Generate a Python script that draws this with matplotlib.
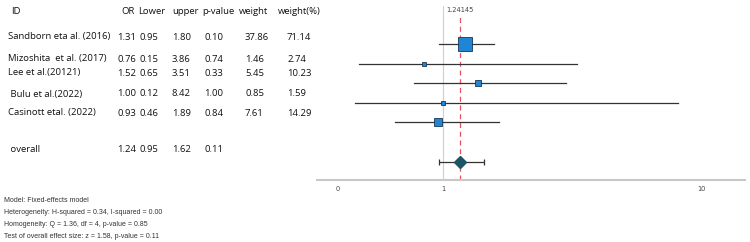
import numpy as np
import matplotlib.pyplot as plt

# data
studies = ["Sandborn eta al. (2016)", "Mizoshita  et al. (2017)", "Lee et al.(20121)",
           " Bulu et al.(2022)", "Casinott etal. (2022)"]
odds = [1.31, 0.76, 1.52, 1.00, 0.93]
lower = [0.95, 0.15, 0.65, 0.12, 0.46]
upper = [1.80, 3.86, 3.51, 8.42, 1.89]
pvals = [0.10, 0.74, 0.33, 1.00, 0.84]
weights = [37.86, 1.46, 5.45, 0.85, 7.61]
weights_pct = [71.14, 2.74, 10.23, 1.59, 14.29]
overall = {"OR": 1.24, "lower": 0.95, "upper": 1.62, "p": 0.11}
pooled = 1.24145
headers = ["ID", "OR", "Lower", "upper", "p-value", "weight", "weight(%)"]
x_ticks = [0, 1, 10]
notes = ["Model: Fixed-effects model",
         "Heterogeneity: H-squared = 0.34, I-squared = 0.00",
         "Homogeneity: Q = 1.36, df = 4, p-value = 0.85",
         "Test of overall effect size: z = 1.58, p-value = 0.11"]

W, H = 750, 242
fig = plt.figure(figsize=(W / 100, H / 100), dpi=100)


def fx(px):
    return px / W


def fy(py):
    return 1 - py / H


# forest panel, x axis is log10(x + 1)
ax = fig.add_axes([fx(317), fy(180), fx(745) - fx(317), fy(6) - fy(180)])
ax.set_xscale('function', functions=(lambda x: np.log10(np.clip(x + 1, 1e-9, None)),
                                     lambda y: 10 ** y - 1))
ax.set_xlim(-0.129, 13.69)
ax.set_ylim(6.94, -1.94)

rows = np.arange(len(studies))
ax.axvline(1, color='#cfcfcf', lw=0.8, zorder=1)
ax.plot([pooled, pooled], [6.94, -1.45], color='#e8505b', lw=0.9, ls=(0, (4, 3)), zorder=2)
ax.text(pooled, -1.72, f"{pooled:.5f}", fontsize=4.8, color='#444', ha='center', va='center')

for i in rows:
    ax.plot([lower[i], upper[i]], [i, i], color='#333333', lw=0.9, zorder=3)
    ax.plot(odds[i], i, marker='s', ms=1.2 + np.sqrt(weights[i]) * 1.4, color='#1f86d6',
            mec='#1b3550', mew=0.6, zorder=4)

oy = 6
ax.errorbar(overall["OR"], oy,
            xerr=[[overall["OR"] - overall["lower"]], [overall["upper"] - overall["OR"]]],
            fmt='none', ecolor='#333333', elinewidth=0.9, capsize=2.2, capthick=0.9, zorder=3)
ax.plot(overall["OR"], oy, marker='D', ms=6.5, color='#1e5566', mec='#1e5566', zorder=4)

for s in ['top', 'right', 'left']:
    ax.spines[s].set_visible(False)
ax.spines['bottom'].set_color('#c8c8c8')
ax.spines['bottom'].set_linewidth(1.5)
ax.set_yticks([])
ax.set_xticks(x_ticks)
ax.set_xticklabels([str(t) for t in x_ticks])
ax.tick_params(axis='x', length=0, labelsize=4.8, labelcolor='#444', pad=4)
ax.set_facecolor('none')

# table
font = "Open Sans"
fs = 6.8
col_hdr_x = [11, 121, 138, 172, 202, 239, 278]
for x, h in zip(col_hdr_x, headers):
    fig.text(fx(x), fy(11), h, fontsize=fs, family=font, color='#111', va='center')

row_y = [37, 59, 73, 94, 113]
col_x = [8, 117, 140, 172, 204, 245, 287]
for i in rows:
    vals = [studies[i], f"{odds[i]:.2f}", f"{lower[i]:.2f}", f"{upper[i]:.2f}",
            f"{pvals[i]:.2f}", f"{weights[i]:.2f}", f"{weights_pct[i]:.2f}"]
    for x, v in zip(col_x, vals):
        fig.text(fx(x), fy(row_y[i]), v, fontsize=fs, family=font, color='#111', va='center')

ov = [" overall", f"{overall['OR']:.2f}", f"{overall['lower']:.2f}",
      f"{overall['upper']:.2f}", f"{overall['p']:.2f}"]
for x, v in zip(col_x, ov):
    fig.text(fx(x), fy(149), v, fontsize=fs, family=font, color='#111', va='center')

# notes
for k, n in enumerate(notes):
    fig.text(fx(4), fy(201 + 12 * k), n, fontsize=5.0, family='Liberation Sans',
             color='#333', va='center')

fig.savefig("out.png", dpi=100)
